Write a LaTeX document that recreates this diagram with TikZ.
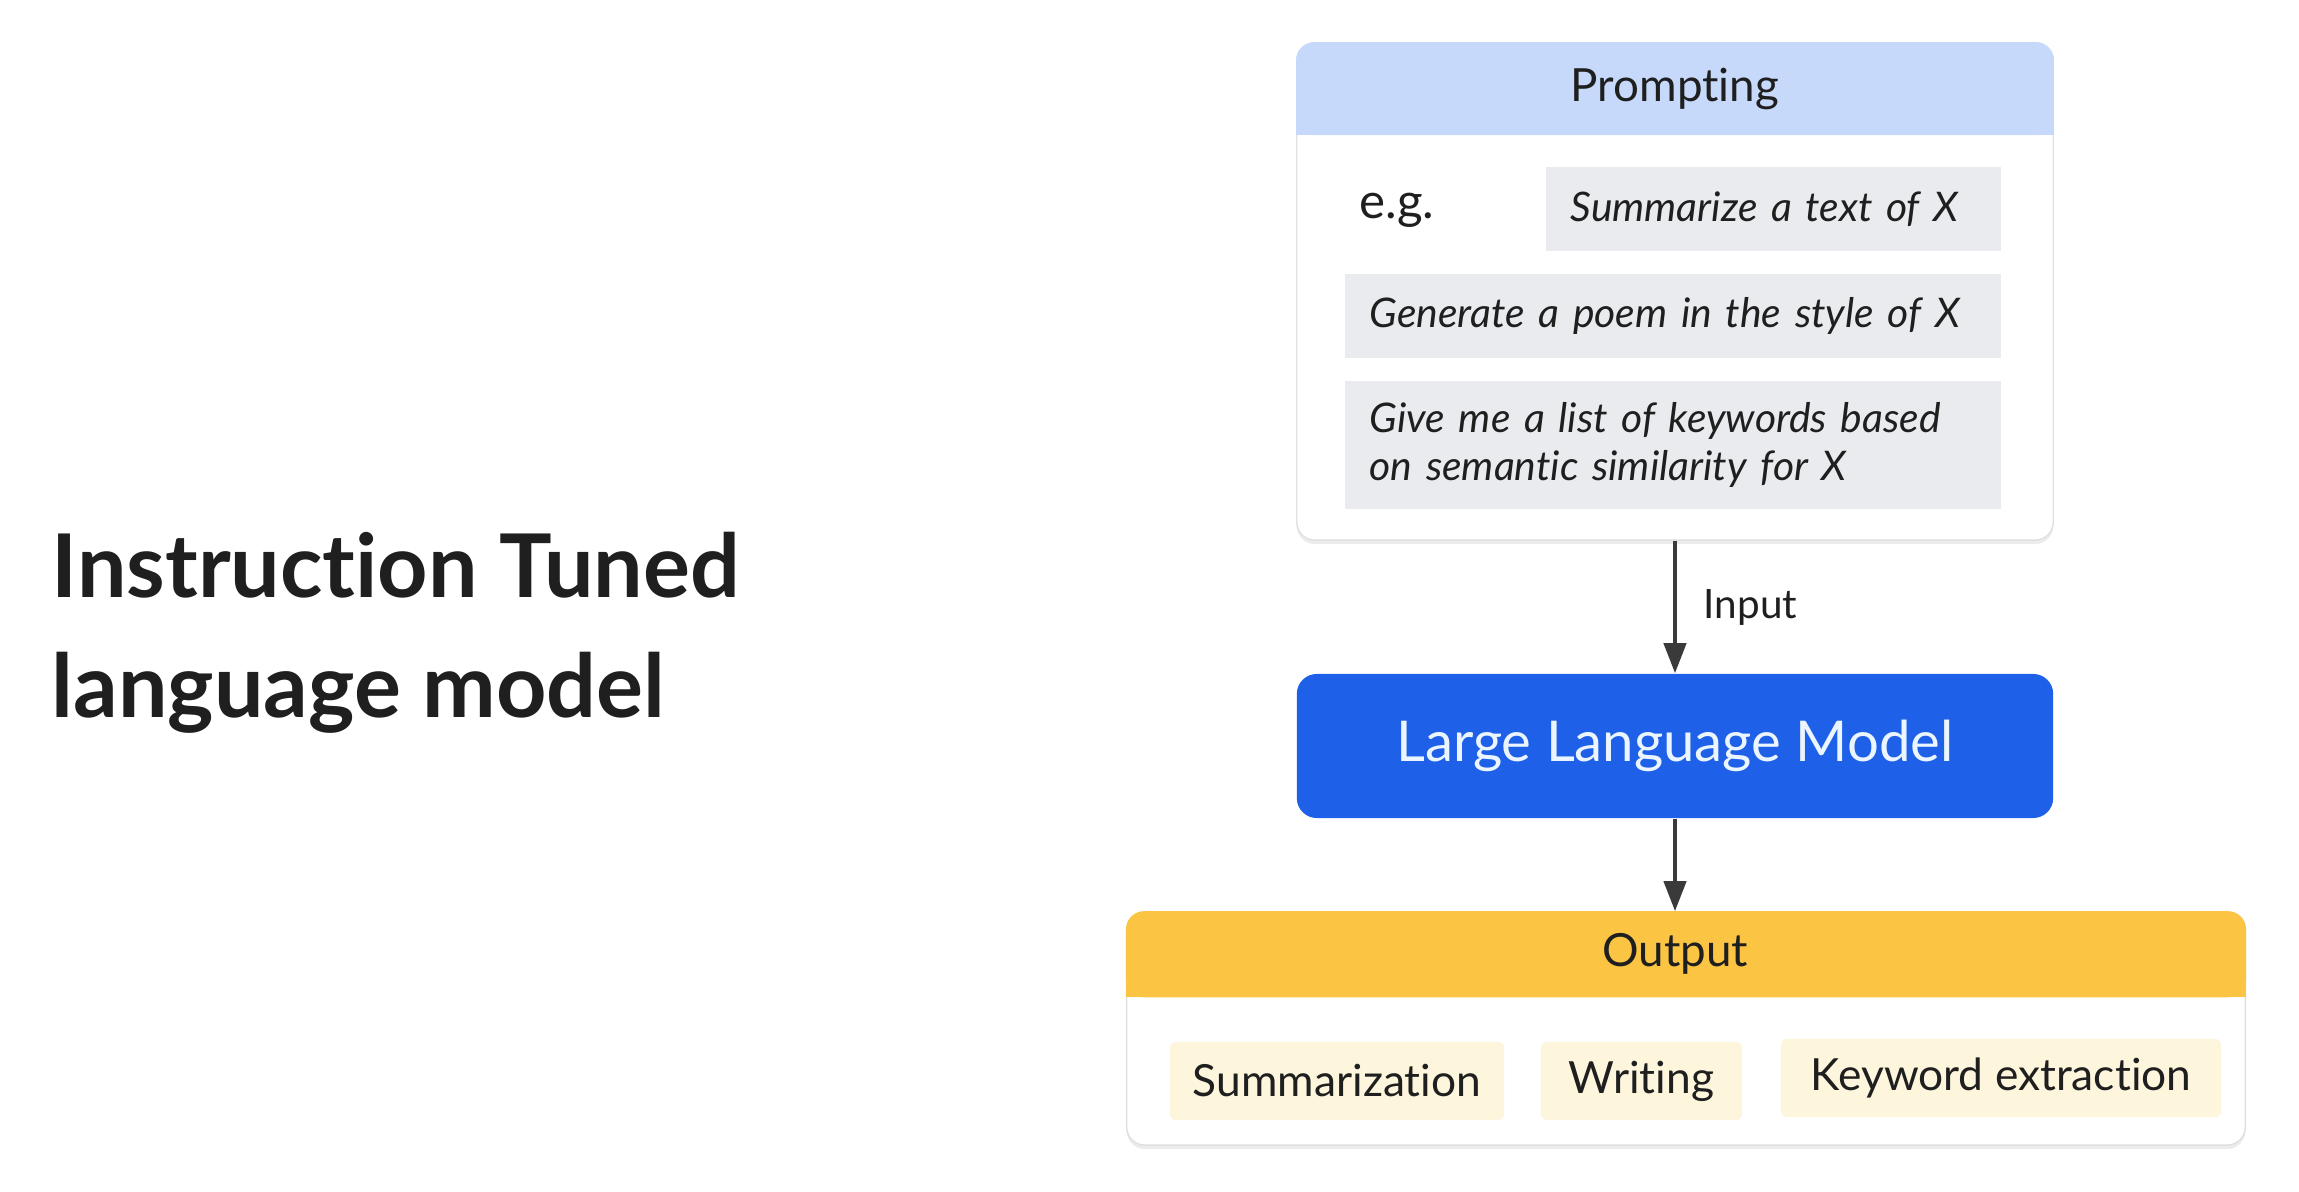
\documentclass[tikz,border=0pt]{standalone}
\usepackage{fontspec}
\setmainfont[Ligatures=NoCommon]{Lato}
\usetikzlibrary{arrows.meta,shadows,positioning}

\definecolor{inkdark}{HTML}{1F1F1F}
\definecolor{headblue}{HTML}{C6D9FB}
\definecolor{chipgray}{HTML}{E9EBEE}
\definecolor{llmblue}{HTML}{1F60E8}
\definecolor{llmtext}{HTML}{EAF5FF}
\definecolor{outyellow}{HTML}{FBC443}
\definecolor{chipcream}{HTML}{FDF5DC}
\definecolor{arrowgray}{HTML}{3A3A3A}

\begin{document}
\begin{tikzpicture}[x=0.01cm,y=-0.01cm,text=inkdark,
  panel/.style={draw=black!12,fill=white,rounded corners=0.18cm,
    drop shadow={shadow xshift=0pt,shadow yshift=-0.04cm,opacity=0.15}},
  promptchip/.style={fill=chipgray,inner xsep=0.25cm,align=left,anchor=west,
    minimum height=0.84cm,font=\fontsize{11.6}{13.6}\selectfont\itshape},
  outchip/.style={fill=chipcream,rounded corners=0.06cm,minimum height=0.78cm,
    font=\fontsize{12.6}{15}\selectfont},
  headtext/.style={font=\fontsize{13}{15}\selectfont},
  flow/.style={draw=arrowgray,line width=1.2pt,-{Triangle[length=3mm,width=2.2mm]}}
]
\useasboundingbox (0,0) rectangle (2299,1192);

% Title
\node[anchor=base west,inner sep=0pt,font=\fontsize{25}{32}\selectfont\bfseries] (title1) at (51,598) {Instruction Tuned};
\node[anchor=base west,inner sep=0pt,font=\fontsize{25}{32}\selectfont\bfseries] (title2) at (51,718) {language model};

% Prompting panel
\node[panel,minimum width=7.56cm,minimum height=4.97cm] (prompting) at (1675,291.5) {};
\fill[headblue,rounded corners=0.18cm] (prompting.north west) rectangle ([yshift=-0.93cm]prompting.north east);
\fill[headblue] ([yshift=-0.5cm]prompting.north west) rectangle ([yshift=-0.93cm]prompting.north east);
\node[headtext] (prompthead) at (1675,89) {Prompting};

\node[font=\fontsize{14}{16}\selectfont] (eg) at (1397,210) {e.g.};
\node[promptchip,text width=4.05cm] (summ) at (1545,209) {Summarize a text of X};
\node[promptchip,text width=6.06cm] (poem) at (1344,316) {Generate a poem in the style of X};
\node[promptchip,text width=6.06cm,minimum height=1.28cm] (keys) at (1344,445) {Give me a list of keywords based\\on semantic similarity for X};

% Model
\node[fill=llmblue,text=llmtext,rounded corners=0.2cm,minimum width=7.56cm,minimum height=1.44cm,
  font=\fontsize{16}{19}\selectfont] (llm) at (1675,746) {Large Language Model};

% Output panel
\node[panel,minimum width=11.18cm,minimum height=2.33cm] (output) at (1686,1028.5) {};
\fill[outyellow,rounded corners=0.18cm] (output.north west) rectangle ([yshift=-0.86cm]output.north east);
\fill[outyellow] ([yshift=-0.5cm]output.north west) rectangle ([yshift=-0.86cm]output.north east);
\node[headtext] (outhead) at (1675,954) {Output};

\node[outchip,minimum width=3.34cm] (summout) at (1337,1081) {Summarization};
\node[outchip,minimum width=2.01cm] (writeout) at (1641.5,1081) {Writing};
\node[outchip,minimum width=4.40cm] (keyout) at (2001,1078) {Keyword extraction};

% Arrows
\draw[flow] (prompting.south) -- (llm.north) node[midway,right=0.15cm,font=\fontsize{11.5}{14}\selectfont] (inlabel) {Input};
\draw[flow] (llm.south) -- (llm.south |- output.north);

\end{tikzpicture}
\end{document}
